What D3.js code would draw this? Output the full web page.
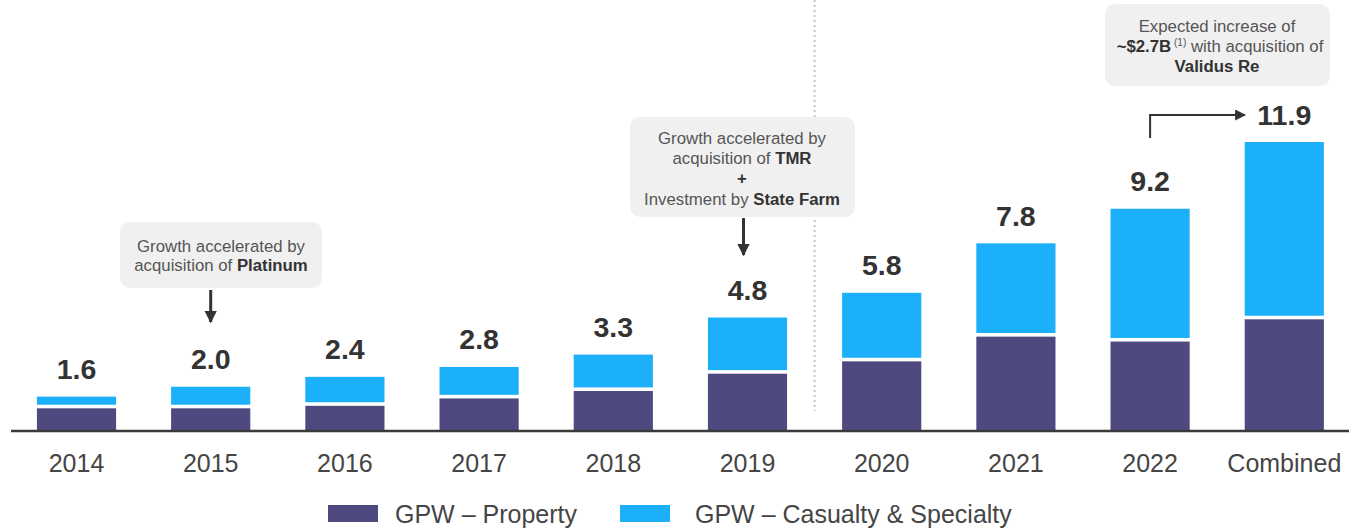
<!DOCTYPE html>
<html>
<head>
<meta charset="utf-8">
<script src="https://cdn.jsdelivr.net/npm/d3@7"></script>
<style>
  html, body { margin: 0; padding: 0; background: #ffffff; }
  svg { display: block; font-family: "Liberation Sans", Arial, sans-serif; }
</style>
</head>
<body>
<svg id="chart" width="1349" height="529"></svg>
<script>
// ---- data ----
const categories = ["2014", "2015", "2016", "2017", "2018", "2019", "2020", "2021", "2022", "Combined"];
const totals     = [1.6, 2.0, 2.4, 2.8, 3.3, 4.8, 5.8, 7.8, 9.2, 11.9];
const property   = [1.2, 1.2, 1.3, 1.6, 1.9, 2.6, 3.1, 4.1, 3.9, 4.8];
const casualty   = [0.4, 0.8, 1.1, 1.2, 1.4, 2.2, 2.7, 3.7, 5.3, 7.1];
const totalLabels = ["1.6", "2.0", "2.4", "2.8", "3.3", "4.8", "5.8", "7.8", "9.2", "11.9"];
const seriesNames = ["GPW \u2013 Property", "GPW \u2013 Casualty & Specialty"];
const axisMin = 0.25;

const colors = { property: "#4e4a80", casualty: "#1bb0f9" };

const svg = d3.select("#chart");

const x = d3.scaleBand()
  .domain(categories)
  .range([9.4, 1351.4])
  .paddingInner(0.41)
  .paddingOuter(0.205);

const y = d3.scaleLinear()
  .domain([axisMin, d3.max(totals)])
  .range([430, 142]);

const base = y(axisMin);
const gap = 1.8;

const rows = categories.map((c, i) => ({
  cat: c, p: property[i], c: casualty[i], t: property[i] + casualty[i], label: totalLabels[i], total: totals[i]
}));

// dotted separator between 2019 and 2020
const sepX = (x("2019") + x.bandwidth() + x("2020")) / 2;
svg.append("line")
  .attr("x1", sepX).attr("x2", sepX)
  .attr("y1", 0).attr("y2", 411)
  .attr("stroke", "#c4c4c4")
  .attr("stroke-width", 2)
  .attr("stroke-dasharray", "2,3");

// bars
const g = svg.append("g");
g.selectAll("rect.prop").data(rows).join("rect")
  .attr("class", "prop")
  .attr("x", d => x(d.cat))
  .attr("width", x.bandwidth())
  .attr("y", d => y(d.p) + gap)
  .attr("height", d => base - y(d.p) - gap)
  .attr("fill", colors.property);

g.selectAll("rect.cas").data(rows).join("rect")
  .attr("class", "cas")
  .attr("x", d => x(d.cat))
  .attr("width", x.bandwidth())
  .attr("y", d => y(d.t))
  .attr("height", d => y(d.p) - gap - y(d.t))
  .attr("fill", colors.casualty);

// total labels
g.selectAll("text.tot").data(rows).join("text")
  .attr("class", "tot")
  .attr("x", d => x(d.cat) + x.bandwidth() / 2)
  .attr("y", d => y(d.t) - 17.5)
  .attr("text-anchor", "middle")
  .attr("font-size", 28.5)
  .attr("font-weight", "bold")
  .attr("fill", "#333333")
  .text(d => d.label);

// axis line
svg.append("line")
  .attr("x1", 11).attr("x2", 1349)
  .attr("y1", base + 1).attr("y2", base + 1)
  .attr("stroke", "#3a3a3a")
  .attr("stroke-width", 2.5);

// x axis labels
const xAxis = d3.axisBottom(x).tickSize(0).tickPadding(0);
const ax = svg.append("g").attr("transform", `translate(0,${base})`).call(xAxis);
ax.select(".domain").remove();
ax.selectAll("text")
  .attr("y", 41.5)
  .attr("dy", 0)
  .attr("font-size", 25)
  .attr("font-family", "Liberation Sans, Arial, sans-serif")
  .attr("fill", "#454545");

// arrowhead markers
const defs = svg.append("defs");
defs.append("marker")
  .attr("id", "ah")
  .attr("viewBox", "0 0 10 10")
  .attr("refX", 9).attr("refY", 5)
  .attr("markerWidth", 4.2).attr("markerHeight", 4.2)
  .attr("markerUnits", "strokeWidth")
  .attr("orient", "auto")
  .append("path").attr("d", "M0,0 L10,5 L0,10 z").attr("fill", "#333333");
defs.append("marker")
  .attr("id", "ah2")
  .attr("viewBox", "0 0 10 10")
  .attr("refX", 9).attr("refY", 5)
  .attr("markerWidth", 5.5).attr("markerHeight", 5.5)
  .attr("markerUnits", "strokeWidth")
  .attr("orient", "auto")
  .append("path").attr("d", "M0,0 L10,5 L0,10 z").attr("fill", "#333333");

function box(x0, y0, w, h) {
  svg.append("rect")
    .attr("x", x0).attr("y", y0).attr("width", w).attr("height", h)
    .attr("rx", 10).attr("ry", 10)
    .attr("fill", "#f0f0f0");
}
function line(parts, cx, yy, size) {
  const t = svg.append("text")
    .attr("x", cx).attr("y", yy)
    .attr("text-anchor", "middle")
    .attr("font-size", size || 16.8)
    .attr("fill", "#555555");
  parts.forEach(p => {
    const ts = t.append("tspan").text(p.t);
    if (p.b) ts.attr("font-weight", "bold").attr("fill", "#333333");
    if (p.sup) ts.attr("font-size", 10).attr("baseline-shift", "6");
  });
  return t;
}

// Platinum annotation (2015)
const c2015 = x("2015") + x.bandwidth() / 2;
box(120, 222, 202, 66);
line([{t: "Growth accelerated by"}], 221, 251.5);
line([{t: "acquisition of "}, {t: "Platinum", b: true}], 221, 271);
svg.append("line")
  .attr("x1", c2015).attr("x2", c2015)
  .attr("y1", 290).attr("y2", 322)
  .attr("stroke", "#333333").attr("stroke-width", 3)
  .attr("marker-end", "url(#ah)");

// TMR annotation (2019)
const c2019 = x("2019") + x.bandwidth() / 2;
box(630, 117, 225, 100);
line([{t: "Growth accelerated by"}], 742, 143.5);
line([{t: "acquisition of "}, {t: "TMR", b: true}], 742, 163.5);
line([{t: "+", b: true}], 742, 183.5);
line([{t: "Investment by "}, {t: "State Farm", b: true}], 742, 204.5);
svg.append("line")
  .attr("x1", c2019 - 4).attr("x2", c2019 - 4)
  .attr("y1", 218).attr("y2", 255)
  .attr("stroke", "#333333").attr("stroke-width", 3)
  .attr("marker-end", "url(#ah)");

// Validus annotation (Combined)
box(1105, 4, 225, 82);
line([{t: "Expected increase of"}], 1217, 31.5);
line([{t: "~$2.7B", b: true}, {t: " (1)", sup: true}, {t: " with acquisition of"}], 1220, 51.5);
line([{t: "Validus Re", b: true}], 1217, 72);

// elbow arrow from 2022 to Combined
const c2022 = x("2022") + x.bandwidth() / 2;
svg.append("path")
  .attr("d", `M${c2022},138 L${c2022},115 L1245,115`)
  .attr("fill", "none")
  .attr("stroke", "#333333").attr("stroke-width", 2)
  .attr("marker-end", "url(#ah2)");

// legend
const legend = svg.append("g");
const legItems = [
  {name: seriesNames[0], color: colors.property, x: 328, tx: 395},
  {name: seriesNames[1], color: colors.casualty, x: 620, tx: 695}
];
legItems.forEach(it => {
  legend.append("rect")
    .attr("x", it.x).attr("y", 505).attr("width", 50).attr("height", 17)
    .attr("fill", it.color);
  legend.append("text")
    .attr("x", it.tx).attr("y", 522.5)
    .attr("font-size", 25)
    .attr("fill", "#454545")
    .text(it.name);
});
</script>
</body>
</html>
